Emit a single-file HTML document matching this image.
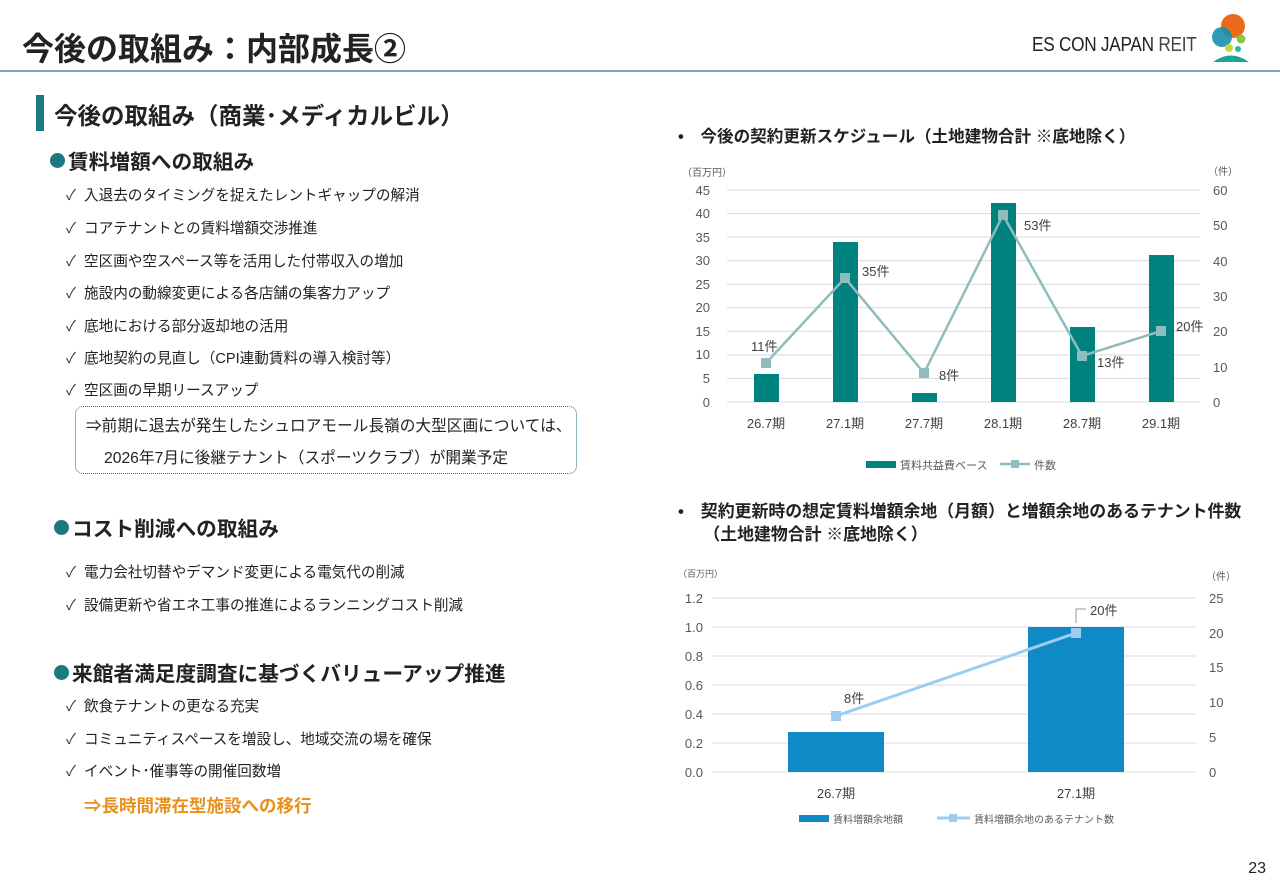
<!DOCTYPE html>
<html><head><meta charset="utf-8"><style>
body{margin:0;width:1280px;height:886px;background:#fff;position:relative;overflow:hidden;font-family:"Liberation Sans","Noto Sans CJK JP",sans-serif;color:#222}
.a{position:absolute;white-space:nowrap}
.ck{font-size:14.6px}
.ck:before{content:"✓";position:absolute;left:-18px;color:#333}
.h{font-size:20.7px;font-weight:bold}
.h b{display:inline-block;width:15px;height:15px;border-radius:50%;background:#1a7a80;margin-right:3px;vertical-align:1px}
</style></head><body>
<div class="a" style="left:22px;top:24px;font-size:32px;font-weight:bold">今後の取組み：内部成長②</div>
<div class="a" style="left:1032px;top:34px;font-size:20px;color:#222;transform:scaleX(0.86);transform-origin:left;letter-spacing:-0.3px">ES CON JAPAN <span style="color:#444">REIT</span></div>
<svg class="a" style="left:1205px;top:12px" width="50" height="52">
<circle cx="28" cy="14" r="12" fill="#ea6a1a"/><circle cx="17" cy="25" r="10" fill="#1b8fb0" opacity=".9"/><circle cx="36" cy="27" r="4.5" fill="#8cc63f"/><circle cx="24" cy="36" r="4" fill="#c7d93a"/><circle cx="33" cy="37" r="3" fill="#2bb6b0"/>
<path d="M8 50 Q26 37 44 50 Z" fill="#17a59a"/></svg>
<div class="a" style="left:0;top:70px;width:1280px;height:2px;background:#7aa5b2"></div>
<div class="a" style="left:36px;top:95px;width:8px;height:36px;background:#1a7a80"></div>
<div class="a" style="left:54px;top:97px;font-size:23.5px;font-weight:bold">今後の取組み（商業･メディカルビル）</div>
<div class="a h" style="left:50px;top:145px"><b></b>賃料増額への取組み</div>
<div class="a ck" style="left:84px;top:184px">入退去のタイミングを捉えたレントギャップの解消</div>
<div class="a ck" style="left:84px;top:217px">コアテナントとの賃料増額交渉推進</div>
<div class="a ck" style="left:84px;top:250px">空区画や空スペース等を活用した付帯収入の増加</div>
<div class="a ck" style="left:84px;top:282px">施設内の動線変更による各店舗の集客力アップ</div>
<div class="a ck" style="left:84px;top:315px">底地における部分返却地の活用</div>
<div class="a ck" style="left:84px;top:347px">底地契約の見直し（CPI連動賃料の導入検討等）</div>
<div class="a ck" style="left:84px;top:379px">空区画の早期リースアップ</div>
<div class="a" style="left:75px;top:406px;width:500px;height:66px;border:1px dotted #1a7a80;border-radius:8px"></div>
<div class="a" style="left:86px;top:413px;font-size:15.7px">⇒前期に退去が発生したシュロアモール長嶺の大型区画については、</div>
<div class="a" style="left:104px;top:445px;font-size:15.7px">2026年7月に後継テナント（スポーツクラブ）が開業予定</div>
<div class="a h" style="left:54px;top:512px"><b></b>コスト削減への取組み</div>
<div class="a ck" style="left:84px;top:561px">電力会社切替やデマンド変更による電気代の削減</div>
<div class="a ck" style="left:84px;top:594px">設備更新や省エネ工事の推進によるランニングコスト削減</div>
<div class="a h" style="left:54px;top:657px"><b></b>来館者満足度調査に基づくバリューアップ推進</div>
<div class="a ck" style="left:84px;top:695px">飲食テナントの更なる充実</div>
<div class="a ck" style="left:84px;top:728px">コミュニティスペースを増設し、地域交流の場を確保</div>
<div class="a ck" style="left:84px;top:760px">イベント･催事等の開催回数増</div>
<div class="a" style="left:84px;top:793px;font-size:17.5px;font-weight:bold;color:#e8901a">⇒長時間滞在型施設への移行</div>
<div class="a" style="left:678px;top:123px;font-size:16.6px;font-weight:bold">•　今後の契約更新スケジュール（土地建物合計 ※底地除く）</div>
<div class="a" style="left:678px;top:500px;font-size:16.9px;font-weight:bold;line-height:23px">•　契約更新時の想定賃料増額余地（月額）と増額余地のあるテナント件数<br>　　（土地建物合計 ※底地除く）</div>
<div class="a" style="right:14px;top:860px;font-size:16px">23</div>

<svg class="a" style="left:0;top:0" width="1280" height="886" font-family="Liberation Sans,Noto Sans CJK JP,sans-serif">
<g stroke="#d9d9d9" stroke-width="1">
<line x1="727" x2="1200" y1="190" y2="190"/><line x1="727" x2="1200" y1="213.6" y2="213.6"/><line x1="727" x2="1200" y1="237.1" y2="237.1"/><line x1="727" x2="1200" y1="260.7" y2="260.7"/><line x1="727" x2="1200" y1="284.2" y2="284.2"/><line x1="727" x2="1200" y1="307.8" y2="307.8"/><line x1="727" x2="1200" y1="331.3" y2="331.3"/><line x1="727" x2="1200" y1="354.9" y2="354.9"/><line x1="727" x2="1200" y1="378.4" y2="378.4"/><line x1="727" x2="1200" y1="402" y2="402"/>
</g>
<g font-size="13" fill="#595959" text-anchor="end">
<text x="710" y="195">45</text><text x="710" y="218">40</text><text x="710" y="242">35</text><text x="710" y="265">30</text><text x="710" y="289">25</text><text x="710" y="312">20</text><text x="710" y="336">15</text><text x="710" y="359">10</text><text x="710" y="383">5</text><text x="710" y="407">0</text>
</g>
<g font-size="13" fill="#595959">
<text x="1213" y="195">60</text><text x="1213" y="230">50</text><text x="1213" y="266">40</text><text x="1213" y="301">30</text><text x="1213" y="336">20</text><text x="1213" y="372">10</text><text x="1213" y="407">0</text>
</g>
<text x="682" y="176" font-size="10" fill="#595959">（百万円）</text><text x="1208" y="175" font-size="10" fill="#595959">（件）</text>
<g fill="#00827f">
<rect x="754" y="374" width="25" height="28"/><rect x="833" y="242" width="25" height="160"/><rect x="912" y="393" width="25" height="9"/><rect x="991" y="203" width="25" height="199"/><rect x="1070" y="327" width="25" height="75"/><rect x="1149" y="255" width="25" height="147"/>
</g>
<polyline points="766,363 845,278 924,373 1003,215 1082,356 1161,331" fill="none" stroke="#8fbcbc" stroke-width="2.5"/>
<g fill="#8fbcbc"><rect x="761" y="358" width="10" height="10"/><rect x="840" y="273" width="10" height="10"/><rect x="919" y="368" width="10" height="10"/><rect x="998" y="210" width="10" height="10"/><rect x="1077" y="351" width="10" height="10"/><rect x="1156" y="326" width="10" height="10"/></g>
<g font-size="13" fill="#404040">
<text x="751" y="351">11件</text><text x="862" y="276">35件</text><text x="939" y="380">8件</text><text x="1024" y="230">53件</text><text x="1097" y="367">13件</text><text x="1176" y="331">20件</text>
</g>
<g font-size="13" fill="#404040" text-anchor="middle">
<text x="766" y="428">26.7期</text><text x="845" y="428">27.1期</text><text x="924" y="428">27.7期</text><text x="1003" y="428">28.1期</text><text x="1082" y="428">28.7期</text><text x="1161" y="428">29.1期</text>
</g>
<rect x="866" y="461" width="30" height="7" fill="#00827f"/><text x="900" y="469" font-size="11" fill="#595959">賃料共益費ベース</text>
<line x1="1000" x2="1030" y1="464" y2="464" stroke="#8fbcbc" stroke-width="2.5"/><rect x="1011" y="460" width="8" height="8" fill="#8fbcbc"/><text x="1034" y="469" font-size="11" fill="#595959">件数</text>

<g stroke="#d9d9d9" stroke-width="1">
<line x1="712" x2="1196" y1="598" y2="598"/><line x1="712" x2="1196" y1="627" y2="627"/><line x1="712" x2="1196" y1="656" y2="656"/><line x1="712" x2="1196" y1="685" y2="685"/><line x1="712" x2="1196" y1="714" y2="714"/><line x1="712" x2="1196" y1="743" y2="743"/><line x1="712" x2="1196" y1="772" y2="772"/>
</g>
<g font-size="13" fill="#595959" text-anchor="end">
<text x="703" y="603">1.2</text><text x="703" y="632">1.0</text><text x="703" y="661">0.8</text><text x="703" y="690">0.6</text><text x="703" y="719">0.4</text><text x="703" y="748">0.2</text><text x="703" y="777">0.0</text>
</g>
<g font-size="13" fill="#595959">
<text x="1209" y="603">25</text><text x="1209" y="638">20</text><text x="1209" y="672">15</text><text x="1209" y="707">10</text><text x="1209" y="742">5</text><text x="1209" y="777">0</text>
</g>
<text x="678" y="577" font-size="9" fill="#595959">（百万円）</text><text x="1206" y="580" font-size="10" fill="#595959">（件）</text>
<rect x="788" y="732" width="96" height="40" fill="#0f8ac6"/><rect x="1028" y="627" width="96" height="145" fill="#0f8ac6"/>
<polyline points="836,716 1076,633" stroke="#9dcdee" stroke-width="3" fill="none"/>
<rect x="831" y="711" width="10" height="10" fill="#9dcdee"/><rect x="1071" y="628" width="10" height="10" fill="#9dcdee"/>
<polyline points="1076,623 1076,609 1086,609" fill="none" stroke="#999" stroke-width="1"/>
<text x="844" y="703" font-size="13" fill="#404040">8件</text><text x="1090" y="615" font-size="13" fill="#404040">20件</text>
<text x="836" y="798" font-size="13" fill="#404040" text-anchor="middle">26.7期</text><text x="1076" y="798" font-size="13" fill="#404040" text-anchor="middle">27.1期</text>
<rect x="799" y="815" width="30" height="7" fill="#0f8ac6"/><text x="833" y="823" font-size="10" fill="#595959">賃料増額余地額</text>
<line x1="937" x2="970" y1="818" y2="818" stroke="#9dcdee" stroke-width="3"/><rect x="949" y="814" width="8" height="8" fill="#9dcdee"/><text x="974" y="823" font-size="10" fill="#595959">賃料増額余地のあるテナント数</text>
</svg>
</body></html>
